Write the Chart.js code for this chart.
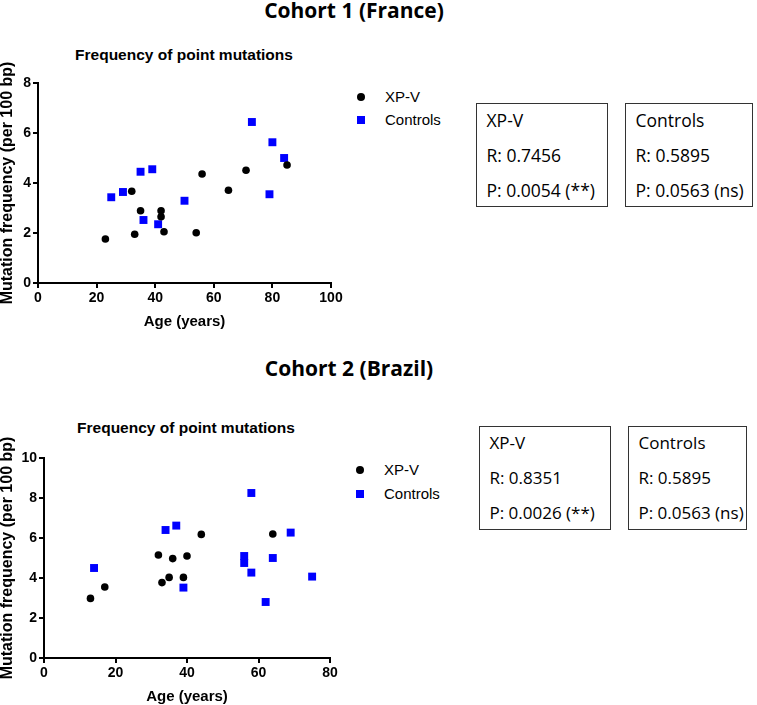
<!DOCTYPE html>
<html>
<head>
<meta charset="utf-8">
<script src="https://cdn.jsdelivr.net/npm/chart.js@4.4.1/dist/chart.umd.min.js"></script>
<style>
  html, body { margin: 0; padding: 0; background: #fff; }
  body { width: 757px; height: 705px; position: relative; overflow: hidden; }
  .abs { position: absolute; white-space: nowrap; color: #000; }
  .cohort { font-family: "Open Sans", sans-serif; font-weight: 700; font-size: 21px; height: 24px; line-height: 24px; transform: translateX(-50%); }
  .ptitle { font-family: "Liberation Sans", Arial, sans-serif; font-weight: 700; font-size: 15.5px; height: 18px; line-height: 18px; transform: translateX(-50%); }
  .leg { font-family: "Liberation Sans", Arial, sans-serif; font-size: 15px; height: 18px; line-height: 18px; }
  .dot { width: 8px; height: 8px; border-radius: 50%; background: #000; }
  .sq { width: 8px; height: 8px; background: #0000ff; }
  .box { border: 1.5px solid #333; box-sizing: border-box; font-family: "Open Sans", sans-serif; }
  .box div { position: absolute; left: 9.5px; height: 24px; line-height: 24px; white-space: nowrap; }
  canvas { position: absolute; }
</style>
</head>
<body>
<div class="abs cohort" style="left:354px; top:-2px;">Cohort 1 (France)</div>
<div class="abs ptitle" style="left:184px; top:46px;">Frequency of point mutations</div>
<div id="wrap1" style="position:absolute; left:0; top:60px; width:345px; height:275px;"><canvas id="chart1"></canvas></div>
<div id="legend1"></div>
<div id="boxes1"></div>

<div class="abs cohort" style="left:349px; top:356px;">Cohort 2 (Brazil)</div>
<div class="abs ptitle" style="left:186px; top:419px;">Frequency of point mutations</div>
<div id="wrap2" style="position:absolute; left:0; top:410px; width:345px; height:295px;"><canvas id="chart2"></canvas></div>
<div id="legend2"></div>
<div id="boxes2"></div>

<script>
// 数据：Cohort 1 (France)
const c1XpvAge  = [23, 32, 33, 35, 42, 42, 43, 54, 56, 65, 71, 85];
const c1XpvFreq = [1.76, 3.67, 1.95, 2.89, 2.89, 2.65, 2.05, 2.01, 4.36, 3.71, 4.51, 4.72];
const c1CtrlAge  = [25, 29, 35, 36, 39, 41, 50, 73, 79, 80, 84];
const c1CtrlFreq = [3.43, 3.64, 4.45, 2.52, 4.55, 2.35, 3.29, 6.44, 3.55, 5.63, 5.0];

// 数据：Cohort 2 (Brazil)
const c2XpvAge  = [13, 17, 32, 33, 35, 36, 39, 40, 44, 64];
const c2XpvFreq = [2.98, 3.55, 5.15, 3.77, 4.03, 4.97, 4.03, 5.1, 6.18, 6.2];
const c2CtrlAge  = [14, 34, 37, 39, 56, 56, 58, 58, 62, 64, 69, 75];
const c2CtrlFreq = [4.5, 6.4, 6.62, 3.52, 5.1, 4.75, 8.25, 4.27, 2.8, 5.0, 6.27, 4.07];

const seriesNames = ['XP-V', 'Controls'];
const c1Stats = [['XP-V', 'R: 0.7456', 'P: 0.0054 (**)'], ['Controls', 'R: 0.5895', 'P: 0.0563 (ns)']];
const c2Stats = [['XP-V', 'R: 0.8351', 'P: 0.0026 (**)'], ['Controls', 'R: 0.5895', 'P: 0.0563 (ns)']];

const xTitle = 'Age (years)';
const yTitle = 'Mutation frequency (per 100 bp)';

const tickFont = { family: 'Liberation Sans', weight: 'bold', size: 14 };
const xTitleFont = { family: 'Liberation Sans', weight: 'bold', size: 15, lineHeight: 1.0 };
const yTitleFont = { family: 'Liberation Sans', weight: 'bold', size: 16, lineHeight: 1.0 };

function toPoints(xs, ys) {
  return xs.map((x, i) => ({ x: x, y: ys[i] }));
}

function axis(min, max, step, title, fitSize, horizontal) {
  return {
    type: 'linear',
    min: min, max: max,
    ticks: { stepSize: step, color: '#000', font: tickFont, padding: 2 },
    border: { display: true, color: '#000', width: 2 },
    grid: { display: true, drawOnChartArea: false, drawTicks: true, tickLength: 5, color: '#000', lineWidth: 2 },
    title: { display: true, text: title, color: '#000', font: horizontal ? xTitleFont : yTitleFont, padding: 0 },
    afterFit: s => { if (horizontal) s.height = fitSize; else s.width = fitSize; }
  };
}

function makeChart(id, xpv, ctrl, xMax, yMax, pad, yWidth, xHeight) {
  new Chart(document.getElementById(id), {
    type: 'scatter',
    data: {
      datasets: [
        { label: seriesNames[0], data: xpv, pointStyle: 'circle', pointRadius: 3.8, pointHoverRadius: 3.8,
          backgroundColor: '#000', borderColor: '#000', borderWidth: 0 },
        { label: seriesNames[1], data: ctrl, pointStyle: 'rect', pointRadius: 5.6, pointHoverRadius: 5.6,
          backgroundColor: '#0000ff', borderColor: '#0000ff', borderWidth: 0 }
      ]
    },
    options: {
      responsive: true,
      maintainAspectRatio: false,
      animation: false,
      layout: { padding: pad },
      plugins: { legend: { display: false }, tooltip: { enabled: false } },
      scales: {
        x: axis(0, xMax, 20, xTitle, xHeight, true),
        y: axis(0, yMax, 2, yTitle, yWidth, false)
      }
    }
  });
}

// 图例和统计框用 HTML 画
function renderLegend(elId, x, y1, y2) {
  const el = document.getElementById(elId);
  el.innerHTML = `
    <div class="abs dot" style="left:${x - 4}px; top:${y1 - 4}px;"></div>
    <div class="abs leg" style="left:${x + 24}px; top:${y1 - 9}px;">${seriesNames[0]}</div>
    <div class="abs sq" style="left:${x - 4}px; top:${y2 - 4}px;"></div>
    <div class="abs leg" style="left:${x + 24}px; top:${y2 - 9}px;">${seriesNames[1]}</div>
  `;
}

function renderBoxes(elId, stats, lefts, widths, top, fontSize) {
  const el = document.getElementById(elId);
  el.innerHTML = stats.map((lines, i) => `
    <div class="abs box" style="left:${lefts[i]}px; top:${top}px; width:${widths[i]}px; height:104px; font-size:${fontSize}px;">
      ${lines.map((t, j) => `<div style="top:${4 + j * 35}px;">${t}</div>`).join('')}
    </div>
  `).join('');
}

makeChart('chart1', toPoints(c1XpvAge, c1XpvFreq), toPoints(c1CtrlAge, c1CtrlFreq), 100, 8,
  { left: 0, top: 23, right: 14, bottom: 5.5 }, 38, 46.5);
makeChart('chart2', toPoints(c2XpvAge, c2XpvFreq), toPoints(c2CtrlAge, c2CtrlFreq), 80, 10,
  { left: 0, top: 48, right: 15, bottom: 0.5 }, 44, 46.5);

renderLegend('legend1', 361, 97, 120);
renderLegend('legend2', 360, 470, 494);
renderBoxes('boxes1', c1Stats, [476, 625], [132, 128], 103, 17.5);
renderBoxes('boxes2', c2Stats, [479, 628], [132, 119], 426, 17);
</script>
</body>
</html>
